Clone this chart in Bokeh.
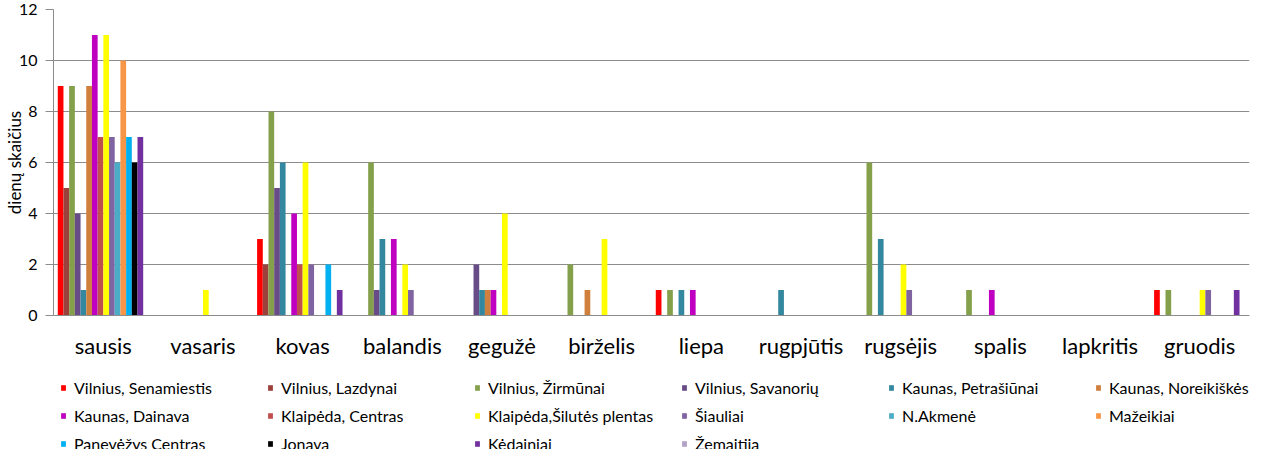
from bokeh.plotting import figure
from bokeh.layouts import column
from bokeh.models import (ColumnDataSource, FactorRange, Range1d, FixedTicker,
                          Legend, LegendItem)
from bokeh.transform import dodge
from bokeh.embed import file_html
from bokeh.resources import INLINE

months = ["sausis", "vasaris", "kovas", "balandis", "gegužė", "birželis",
          "liepa", "rugpjūtis", "rugsėjis", "spalis", "lapkritis", "gruodis"]

series_names = ["Vilnius, Senamiestis", "Vilnius, Lazdynai", "Vilnius, Žirmūnai",
                "Vilnius, Savanorių", "Kaunas, Petrašiūnai", "Kaunas, Noreikiškės",
                "Kaunas, Dainava", "Klaipėda, Centras", "Klaipėda,Šilutės plentas",
                "Šiauliai", "N.Akmenė", "Mažeikiai", "Panevėžys Centras", "Jonava",
                "Kėdainiai", "Žemaitija"]

vilnius_senamiestis = [9, 0, 3, 0, 0, 0, 1, 0, 0, 0, 0, 1]
vilnius_lazdynai = [5, 0, 2, 0, 0, 0, 0, 0, 0, 0, 0, 0]
vilnius_zirmunai = [9, 0, 8, 6, 0, 2, 1, 0, 6, 1, 0, 1]
vilnius_savanoriu = [4, 0, 5, 1, 2, 0, 0, 0, 0, 0, 0, 0]
kaunas_petrasiunai = [1, 0, 6, 3, 1, 0, 1, 1, 3, 0, 0, 0]
kaunas_noreikiskes = [9, 0, 0, 0, 1, 1, 0, 0, 0, 0, 0, 0]
kaunas_dainava = [11, 0, 4, 3, 1, 0, 1, 0, 0, 1, 0, 0]
klaipeda_centras = [7, 0, 2, 0, 0, 0, 0, 0, 0, 0, 0, 0]
klaipeda_silutes = [11, 1, 6, 2, 4, 3, 0, 0, 2, 0, 0, 1]
siauliai = [7, 0, 2, 1, 0, 0, 0, 0, 1, 0, 0, 1]
n_akmene = [6, 0, 0, 0, 0, 0, 0, 0, 0, 0, 0, 0]
mazeikiai = [10, 0, 0, 0, 0, 0, 0, 0, 0, 0, 0, 0]
panevezys_centras = [7, 0, 2, 0, 0, 0, 0, 0, 0, 0, 0, 0]
jonava = [6, 0, 0, 0, 0, 0, 0, 0, 0, 0, 0, 0]
kedainiai = [7, 0, 1, 0, 0, 0, 0, 0, 0, 0, 0, 1]
zemaitija = [0, 0, 0, 0, 0, 0, 0, 0, 0, 0, 0, 0]

series_values = [vilnius_senamiestis, vilnius_lazdynai, vilnius_zirmunai,
                 vilnius_savanoriu, kaunas_petrasiunai, kaunas_noreikiskes,
                 kaunas_dainava, klaipeda_centras, klaipeda_silutes, siauliai,
                 n_akmene, mazeikiai, panevezys_centras, jonava, kedainiai,
                 zemaitija]

colors = ["#FF0000", "#9C403C", "#85A04A", "#684C88", "#33879E", "#D07F3C",
          "#C000C0", "#C0504D", "#FFFF00", "#8064A2", "#4BACC6", "#F79646",
          "#00B0F0", "#000000", "#7030A0", "#B3A2C7"]

y_ticks = [0, 2, 4, 6, 8, 10, 12]

FONT = "Lato"
GRID = "#8C8C8C"
W = 1253

# ---------------- main chart ----------------
p = figure(x_range=FactorRange(*months, range_padding=0),
           y_range=Range1d(0, 12),
           width=W, height=361,
           output_backend="svg", toolbar_location=None,
           min_border_left=51, min_border_right=4,
           min_border_top=9, min_border_bottom=43)
p.outline_line_color = None
p.background_fill_color = "white"
p.border_fill_color = "white"

n = len(series_names)
slot = 1.0 / (n + 1.5)
for i, (name, vals, col) in enumerate(zip(series_names, series_values, colors)):
    src = ColumnDataSource(dict(month=months, value=vals))
    p.vbar(x=dodge("month", (i - (n - 1) / 2) * slot, range=p.x_range),
           top="value", width=slot, source=src,
           fill_color=col, line_color=None)

# y axis
p.yaxis.ticker = FixedTicker(ticks=y_ticks)
p.yaxis.axis_line_color = GRID
p.yaxis.major_tick_line_color = GRID
p.yaxis.major_tick_out = 8
p.yaxis.major_tick_in = 0
p.yaxis.minor_tick_line_color = None
p.yaxis.major_label_standoff = 8
p.yaxis.major_label_text_font = FONT
p.yaxis.major_label_text_font_size = "16px"
p.yaxis.major_label_text_color = "#000000"
p.yaxis.axis_label = "dienų skaičius"
p.yaxis.axis_label_text_font = FONT
p.yaxis.axis_label_text_font_size = "17px"
p.yaxis.axis_label_text_font_style = "normal"
p.yaxis.axis_label_text_color = "#000000"
p.yaxis.axis_label_standoff = -9

# x axis (categories)
p.xaxis.axis_line_color = GRID
p.xaxis.major_tick_line_color = None
p.xaxis.major_tick_out = 0
p.xaxis.major_tick_in = 0
p.xaxis.minor_tick_line_color = None
p.xaxis.major_label_standoff = 16
p.xaxis.major_label_text_font = FONT
p.xaxis.major_label_text_font_size = "22px"
p.xaxis.major_label_text_color = "#000000"

p.xgrid.grid_line_color = None
p.ygrid.grid_line_color = GRID
p.ygrid.grid_line_width = 1
p.ygrid.ticker = FixedTicker(ticks=y_ticks)

# ---------------- legend strip ----------------
leg = figure(x_range=FactorRange(*months, range_padding=0),
             y_range=Range1d(100, 101),
             width=W, height=88,
             x_axis_location=None, y_axis_location=None,
             output_backend="svg", toolbar_location=None,
             min_border_left=0, min_border_right=0,
             min_border_top=0, min_border_bottom=0)
leg.grid.visible = False
leg.outline_line_color = None
leg.background_fill_color = "white"
leg.border_fill_color = "white"

items = []
for i, (name, vals, col) in enumerate(zip(series_names, series_values, colors)):
    src = ColumnDataSource(dict(month=months, value=vals))
    r = leg.vbar(x=dodge("month", (i - (n - 1) / 2) * slot, range=leg.x_range),
                 top="value", width=slot, source=src,
                 fill_color=col, line_color=None)
    items.append(LegendItem(label=name, renderers=[r]))

legend = Legend(items=items, location=(7, -4), orientation="horizontal",
                ncols=6, glyph_width=6, glyph_height=7, label_standoff=8,
                label_width=185, label_height=20, spacing=8,
                padding=0, margin=0, border_line_color=None,
                background_fill_alpha=0,
                label_text_font=FONT, label_text_font_size="16px",
                label_text_color="#000000")
leg.add_layout(legend, "center")

layout = column(p, leg, spacing=0)
open("out.html", "w").write(file_html(layout, INLINE))
